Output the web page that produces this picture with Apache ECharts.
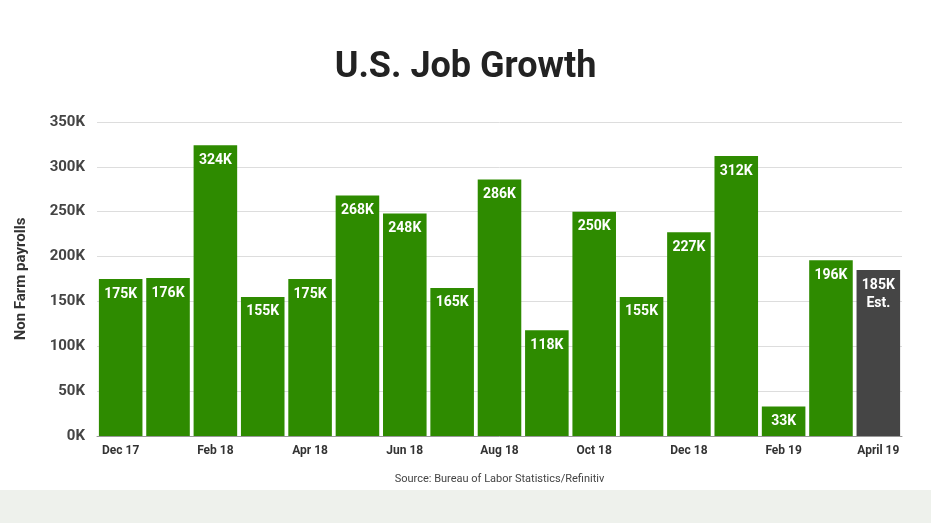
<!DOCTYPE html>
<html><head><meta charset="utf-8">
<script src="https://cdn.jsdelivr.net/npm/echarts@6/dist/echarts.min.js"></script>
<style>html,body{margin:0;padding:0;background:#fff}#main{width:931px;height:523px}</style>
</head><body><div id="main"></div>
<script>
const months = ['Dec 17','Jan 18','Feb 18','Mar 18','Apr 18','May 18','Jun 18','Jul 18','Aug 18','Sept 18','Oct 18','Nov 18','Dec 18','Jan 19','Feb 19','Mar 19','April 19'];
const jobs = [175,176,324,155,175,268,248,165,286,118,250,155,227,312,33,196,185];
const estimated = [false,false,false,false,false,false,false,false,false,false,false,false,false,false,false,false,true];
const yTicks = [0,50,100,150,200,250,300,350];

const chart = echarts.init(document.getElementById('main'));
chart.setOption({
  animation: false,
  backgroundColor: '#fff',
  graphic: [
    { type: 'rect', left: 0, top: 490, shape: { width: 931, height: 33 }, style: { fill: '#eef1ec' }, z: -1 }
  ],
  title: {
    text: 'U.S. Job Growth', left: 'center', top: 45,
    textStyle: { fontFamily: 'Roboto', fontWeight: 'bold', fontSize: 36, color: '#222' }
  },
  grid: { left: 97, right: 29, top: 122, bottom: 87 },
  xAxis: {
    type: 'category', data: months,
    axisTick: { show: false },
    axisLine: { lineStyle: { color: '#999' } },
    axisLabel: { color: '#333', fontWeight: 'bold', fontSize: 12, fontFamily: 'Roboto', margin: 9 },
    name: 'Source: Bureau of Labor Statistics/Refinitiv', nameLocation: 'middle', nameGap: 38,
    nameTextStyle: { color: '#444', fontSize: 11, fontFamily: 'Roboto' }
  },
  yAxis: {
    type: 'value', min: 0, max: 350, interval: 50,
    name: 'Non Farm payrolls', nameLocation: 'middle', nameGap: 68,
    nameTextStyle: { color: '#333', fontWeight: 'bold', fontSize: 15, fontFamily: 'Roboto' },
    axisLabel: { color: '#444', fontWeight: 'bold', fontSize: 15, fontFamily: 'Roboto', margin: 12,
      formatter: v => yTicks.includes(v) ? v + 'K' : '' },
    splitLine: { lineStyle: { color: '#ddd' } }
  },
  series: [{
    type: 'bar', barCategoryGap: '8%',
    data: jobs.map((v, i) => ({ value: v, itemStyle: { color: estimated[i] ? '#454545' : '#2e8b00' } })),
    label: {
      show: true, position: 'insideTop', distance: 6, color: '#fff', fontWeight: 'bold',
      fontSize: 14, fontFamily: 'Roboto', lineHeight: 18,
      formatter: p => estimated[p.dataIndex] ? p.value + 'K\nEst.' : p.value + 'K'
    }
  }]
});
</script></body></html>
